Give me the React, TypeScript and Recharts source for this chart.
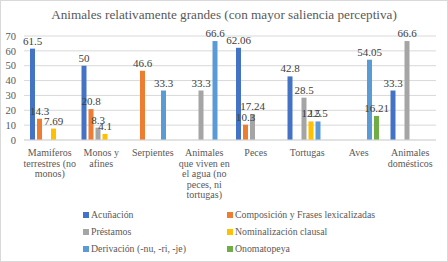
import React from "react";
import { BarChart, Bar, XAxis, YAxis, CartesianGrid, Legend, LabelList } from "recharts";

const categories = [
  "Mamiferos terrestres (no monos)",
  "Monos y afines",
  "Serpientes",
  "Animales que viven en el agua (no peces, ni tortugas)",
  "Peces",
  "Tortugas",
  "Aves",
  "Animales domésticos",
];

// how each category label wraps under the axis
const tickLines = [
  ["Mamiferos", "terrestres (no", "monos)"],
  ["Monos y", "afines"],
  ["Serpientes"],
  ["Animales", "que viven en", "el agua (no", "peces, ni", "tortugas)"],
  ["Peces"],
  ["Tortugas"],
  ["Aves"],
  ["Animales", "domésticos"],
];

const acunacion = [61.5, 50, null, null, 62.06, 42.8, null, 33.3];
const composicion = [14.3, 20.8, 46.6, null, 10.3, null, null, null];
const prestamos = [null, 8.3, null, 33.3, 17.24, 28.5, null, 66.6];
const nominalizacion = [7.69, 4.1, null, null, null, 12.5, null, null];
const derivacion = [null, null, 33.3, 66.6, null, 12.5, 54.05, null];
const onomatopeya = [null, null, null, null, null, null, 16.21, null];

const yTicks = [0, 10, 20, 30, 40, 50, 60, 70];

const series = [
  { key: "acunacion", name: "Acuñación", color: "#4472C4", values: acunacion },
  { key: "composicion", name: "Composición y Frases lexicalizadas", color: "#ED7D31", values: composicion },
  { key: "prestamos", name: "Préstamos", color: "#A5A5A5", values: prestamos },
  { key: "nominalizacion", name: "Nominalización clausal", color: "#FFC000", values: nominalizacion },
  { key: "derivacion", name: "Derivación (-nu, -ri, -je)", color: "#5B9BD5", values: derivacion },
  { key: "onomatopeya", name: "Onomatopeya", color: "#70AD47", values: onomatopeya },
];

const data = categories.map((c, i) => {
  const row: any = { name: c };
  series.forEach((s) => (row[s.key] = s.values[i]));
  return row;
});

const FONT = "'Liberation Serif', 'Times New Roman', serif";

const CategoryTick = (props: any) => {
  const { x, y, payload } = props;
  const lines = tickLines[payload.index] || [String(payload.value)];
  return (
    <text x={x} y={y} textAnchor="middle" fill="#595959" fontSize={10} style={{ fontFamily: FONT }}>
      {lines.map((l, i) => (
        <tspan key={i} x={x} dy={i === 0 ? 8 : 10.6}>
          {l}
        </tspan>
      ))}
    </text>
  );
};

const LegendBox = () => {
  const cols = [83, 227];
  return (
    <div style={{ position: "relative", width: 448, height: 48 }}>
      {series.map((s, i) => (
        <div
          key={s.key}
          style={{
            position: "absolute",
            left: cols[i % 2],
            top: Math.floor(i / 2) * 17 + 1,
            display: "flex",
            alignItems: "center",
            fontFamily: FONT,
            fontSize: 9.8,
            color: "#595959",
            whiteSpace: "nowrap",
            lineHeight: "14px",
          }}
        >
          <span style={{ display: "inline-block", width: 6, height: 6, background: s.color, marginRight: 2 }} />
          {s.name}
        </div>
      ))}
    </div>
  );
};

export default function App() {
  return (
    <div
      style={{
        position: "fixed",
        left: 0,
        top: 0,
        width: 448,
        height: 262,
        background: "#fff",
        boxSizing: "border-box",
        border: "1px solid #d9d9d9",
      }}
    >
      <div
        style={{
          position: "absolute",
          top: 6,
          left: 0,
          width: 446,
          textAlign: "center",
          fontFamily: FONT,
          fontSize: 13.2,
          color: "#595959",
        }}
      >
        Animales relativamente grandes (con mayor saliencia perceptiva)
      </div>
      <div style={{ position: "absolute", left: -1, top: -1 }}>
        <BarChart
          width={448}
          height={262}
          data={data}
          margin={{ top: 36, right: 12, left: 0, bottom: 7 }}
          barSize={5}
          barGap={2}
        >
          <CartesianGrid vertical={false} stroke="#d9d9d9" />
          <XAxis
            dataKey="name"
            interval={0}
            height={67}
            tickLine={false}
            axisLine={{ stroke: "#d9d9d9" }}
            tick={<CategoryTick />}
          />
          <YAxis
            width={24}
            domain={[0, 70]}
            ticks={yTicks}
            interval={0}
            tickLine={false}
            axisLine={false}
            tick={{ fill: "#595959", fontSize: 10.5, style: { fontFamily: FONT } }}
          />
          <Legend verticalAlign="bottom" content={() => <LegendBox />} />
          {series.map((s) => (
            <Bar key={s.key} dataKey={s.key} name={s.name} fill={s.color} isAnimationActive={false}>
              <LabelList
                dataKey={s.key}
                position="top"
                offset={4}
                fill="#404040"
                fontSize={11}
                style={{ fontFamily: FONT }}
              />
            </Bar>
          ))}
        </BarChart>
      </div>
    </div>
  );
}
